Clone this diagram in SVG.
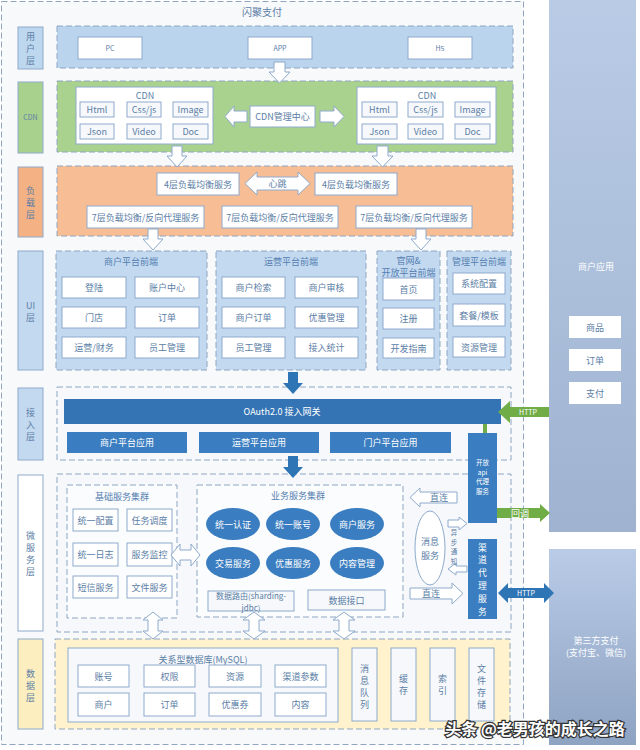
<svg xmlns="http://www.w3.org/2000/svg" width="640" height="750" viewBox="0 0 640 750">
<defs>
<linearGradient id="gApp" x1="0" y1="0" x2="0" y2="1"><stop offset="0" stop-color="#b9cbe5"/><stop offset="1" stop-color="#9fb3d1"/></linearGradient>
<linearGradient id="gPay" x1="0" y1="0" x2="0" y2="1"><stop offset="0" stop-color="#b9cbe7"/><stop offset="1" stop-color="#8ea3c2"/></linearGradient>
</defs>
<style>
text{font-family:"Noto Sans CJK SC","Liberation Sans",sans-serif;font-size:9px;fill:#5b7ea6;text-anchor:middle;dominant-baseline:central}
.box{fill:#fff;stroke:#8eaacc;stroke-width:1}
.ibox{fill:#f6f8fb;stroke:#8eaacc;stroke-width:1}
.dash{stroke:#8fa6c2;stroke-width:1;stroke-dasharray:6,3}
.lab{stroke:#8eaacc;stroke-width:1}
.ha{fill:#fff;stroke:#8eaacc;stroke-width:1}
.blue{fill:#3a7dc0}
.w{fill:#fff}
.ttl{fill:#5580b0}
.s7{font-size:7px}
.s6{font-size:6.5px}
.s10{font-size:10px}
.sv{font-size:8.8px}
</style>
<rect x="0" y="0" width="640" height="750" fill="#fff"/>
<rect x="1.5" y="1.5" width="522" height="743" fill="#f8f9fb" class="dash"/>
<text x="262" y="11" class="s10">闪聚支付</text>

<g id="merchant-app">
<rect x="549" y="0" width="87" height="532" fill="url(#gApp)"/>
<text x="596" y="266" class="w">商户应用</text>
<rect x="569" y="316" width="52" height="22" fill="#fff"/><text x="595" y="327">商品</text>
<rect x="569" y="349" width="52" height="22" fill="#fff"/><text x="595" y="360">订单</text>
<rect x="569" y="382" width="52" height="22" fill="#fff"/><text x="595" y="393">支付</text>
</g>
<g id="third-pay">
<rect x="549" y="549" width="87" height="196" fill="url(#gPay)"/>
<text x="596" y="640" class="w">第三方支付</text>
<text x="596" y="652" class="w">(支付宝、微信)</text>
</g>

<g id="layer-labels">
<rect x="18" y="27" width="25" height="42" fill="#bdd7ee" class="lab"/>
<text x="30.5" y="36">用</text><text x="30.5" y="48">户</text><text x="30.5" y="60">层</text>
<rect x="18" y="82" width="25" height="71" fill="#a9d18e" class="lab"/>
<text x="30.5" y="117" class="s7">CDN</text>
<rect x="18" y="167" width="25" height="70" fill="#f4b183" class="lab"/>
<text x="30.5" y="190">负</text><text x="30.5" y="202">载</text><text x="30.5" y="214">层</text>
<rect x="18" y="251" width="25" height="119" fill="#c3d9f0" class="lab"/>
<text x="30.5" y="305">UI</text><text x="30.5" y="317">层</text>
<rect x="18" y="388" width="25" height="72" fill="#c3d9f0" class="lab"/>
<text x="30.5" y="412">接</text><text x="30.5" y="424">入</text><text x="30.5" y="436">层</text>
<rect x="18" y="475" width="25" height="156" fill="#fff" class="lab"/>
<text x="30.5" y="535">微</text><text x="30.5" y="547">服</text><text x="30.5" y="559">务</text><text x="30.5" y="571">层</text>
<rect x="18" y="639" width="25" height="90" fill="#fdeebf" class="lab"/>
<text x="30.5" y="673">数</text><text x="30.5" y="685">据</text><text x="30.5" y="697">层</text>
</g>

<g id="user-layer">
<rect x="57" y="26" width="456" height="42" fill="#bad4ee" class="dash"/>
<rect x="78" y="37" width="64" height="22" class="box"/><text x="110" y="48" class="s7">PC</text>
<rect x="248" y="37" width="64" height="22" class="box"/><text x="280" y="48" class="s7">APP</text>
<rect x="408" y="37" width="64" height="22" class="box"/><text x="440" y="48" class="s7">H5</text>
</g>

<g id="cdn-layer">
<rect x="57" y="81" width="456" height="71" fill="#aad28f" class="dash"/>
<g id="cdn-left">
<rect x="76" y="87" width="137" height="57" class="box"/>
<text x="145" y="95">CDN</text>
<rect x="80" y="102" width="34" height="15" class="ibox"/><text x="97" y="109.5">Html</text>
<rect x="127" y="102" width="34" height="15" class="ibox"/><text x="144" y="109.5">Css/js</text>
<rect x="173" y="102" width="35" height="15" class="ibox"/><text x="190.5" y="109.5">Image</text>
<rect x="80" y="124" width="34" height="15" class="ibox"/><text x="97" y="131.5">Json</text>
<rect x="127" y="124" width="34" height="15" class="ibox"/><text x="144" y="131.5">Video</text>
<rect x="173" y="124" width="35" height="15" class="ibox"/><text x="190.5" y="131.5">Doc</text>
</g>
<g id="cdn-manager">
<rect x="250" y="106" width="65" height="21" class="box"/><text x="282.5" y="116.5">CDN管理中心</text>
</g>
<g id="cdn-right">
<rect x="357" y="87" width="139" height="57" class="box"/>
<text x="427" y="95">CDN</text>
<rect x="362" y="102" width="35" height="15" class="ibox"/><text x="379.5" y="109.5">Html</text>
<rect x="408" y="102" width="35" height="15" class="ibox"/><text x="425.5" y="109.5">Css/js</text>
<rect x="455" y="102" width="35" height="15" class="ibox"/><text x="472.5" y="109.5">Image</text>
<rect x="362" y="124" width="35" height="15" class="ibox"/><text x="379.5" y="131.5">Json</text>
<rect x="408" y="124" width="35" height="15" class="ibox"/><text x="425.5" y="131.5">Video</text>
<rect x="455" y="124" width="35" height="15" class="ibox"/><text x="472.5" y="131.5">Doc</text>
</g>
</g>

<g id="lb-layer">
<rect x="57" y="166" width="456" height="70" fill="#f7be96" class="dash"/>
<rect x="157" y="173" width="82" height="22" class="box"/><text x="198" y="184">4层负载均衡服务</text>
<rect x="315" y="173" width="82" height="22" class="box"/><text x="356" y="184">4层负载均衡服务</text>
<rect x="87" y="206" width="117" height="22" class="box"/><text x="145.5" y="217">7层负载均衡/反向代理服务</text>
<rect x="222" y="206" width="116" height="22" class="box"/><text x="280" y="217">7层负载均衡/反向代理服务</text>
<rect x="356" y="206" width="116" height="22" class="box"/><text x="414" y="217">7层负载均衡/反向代理服务</text>
</g>

<g id="ui-merchant">
<rect x="56" y="251" width="151" height="119" fill="#c3d9f0" class="dash"/>
<text x="131" y="261" class="ttl">商户平台前端</text>
<rect x="62" y="277" width="64" height="21" class="box"/><text x="94" y="287.5">登陆</text>
<rect x="135" y="277" width="64" height="21" class="box"/><text x="167" y="287.5">账户中心</text>
<rect x="62" y="307" width="64" height="21" class="box"/><text x="94" y="317.5">门店</text>
<rect x="135" y="307" width="64" height="21" class="box"/><text x="167" y="317.5">订单</text>
<rect x="62" y="337" width="64" height="21" class="box"/><text x="94" y="347.5">运营/财务</text>
<rect x="135" y="337" width="64" height="21" class="box"/><text x="167" y="347.5">员工管理</text>
</g>
<g id="ui-ops">
<rect x="216" y="251" width="150" height="119" fill="#c3d9f0" class="dash"/>
<text x="291" y="261" class="ttl">运营平台前端</text>
<rect x="222" y="277" width="63" height="21" class="box"/><text x="253.5" y="287.5">商户检索</text>
<rect x="295" y="277" width="63" height="21" class="box"/><text x="326.5" y="287.5">商户审核</text>
<rect x="222" y="307" width="63" height="21" class="box"/><text x="253.5" y="317.5">商户订单</text>
<rect x="295" y="307" width="63" height="21" class="box"/><text x="326.5" y="317.5">优惠管理</text>
<rect x="222" y="337" width="63" height="21" class="box"/><text x="253.5" y="347.5">员工管理</text>
<rect x="295" y="337" width="63" height="21" class="box"/><text x="326.5" y="347.5">接入统计</text>
</g>
<g id="ui-portal">
<rect x="377" y="251" width="63" height="119" fill="#c3d9f0" class="dash"/>
<text x="408.5" y="260" class="ttl">官网&amp;</text>
<text x="408.5" y="272" class="ttl">开放平台前端</text>
<rect x="383" y="278" width="51" height="22" class="box"/><text x="408.5" y="289">首页</text>
<rect x="383" y="308" width="51" height="21" class="box"/><text x="408.5" y="318.5">注册</text>
<rect x="383" y="338" width="51" height="20" class="box"/><text x="408.5" y="348">开发指南</text>
</g>
<g id="ui-admin">
<rect x="447" y="251" width="64" height="119" fill="#c3d9f0" class="dash"/>
<text x="479" y="261" class="ttl">管理平台前端</text>
<rect x="453" y="273" width="52" height="21" class="box"/><text x="479" y="283.5">系统配置</text>
<rect x="453" y="304" width="52" height="22" class="box"/><text x="479" y="315">套餐/模板</text>
<rect x="453" y="337" width="52" height="20" class="box"/><text x="479" y="347">资源管理</text>
</g>

<g id="access-layer">
<rect x="57" y="387" width="454" height="73" fill="#f6f8fb" class="dash"/>
<rect x="64" y="399" width="437" height="25" fill="#3474b5"/><text x="282" y="411.5" class="w">OAuth2.0 接入网关</text>
<rect x="67" y="432" width="120" height="21" class="blue"/><text x="127" y="442.5" class="w">商户平台应用</text>
<rect x="199" y="432" width="120" height="21" class="blue"/><text x="259" y="442.5" class="w">运营平台应用</text>
<rect x="330" y="432" width="121" height="21" class="blue"/><text x="390.5" y="442.5" class="w">门户平台应用</text>
</g>

<g id="micro-layer">
<rect x="57" y="474" width="454" height="158" fill="#f6f8fb" class="dash"/>
</g>
<g id="base-cluster">
<rect x="67" y="485" width="110" height="133" fill="#fbfcfd" class="dash"/>
<text x="122" y="496" class="ttl">基础服务集群</text>
<rect x="73" y="509" width="45" height="22" class="box"/><text x="95.5" y="520">统一配置</text>
<rect x="127" y="509" width="45" height="22" class="box"/><text x="149.5" y="520">任务调度</text>
<rect x="73" y="543" width="45" height="23" class="box"/><text x="95.5" y="554.5">统一日志</text>
<rect x="127" y="543" width="45" height="23" class="box"/><text x="149.5" y="554.5">服务监控</text>
<rect x="73" y="576" width="45" height="22" class="box"/><text x="95.5" y="587">短信服务</text>
<rect x="127" y="576" width="45" height="22" class="box"/><text x="149.5" y="587">文件服务</text>
</g>
<g id="biz-cluster">
<rect x="197" y="485" width="206" height="132" fill="#fbfcfd" class="dash"/>
<text x="298" y="495" class="ttl">业务服务集群</text>
<ellipse cx="233" cy="524" rx="27" ry="16" class="blue"/><text x="233" y="524" class="w">统一认证</text>
<ellipse cx="293" cy="524" rx="27" ry="16" class="blue"/><text x="293" y="524" class="w">统一账号</text>
<ellipse cx="357" cy="524" rx="27" ry="16" class="blue"/><text x="357" y="524" class="w">商户服务</text>
<ellipse cx="233" cy="563" rx="27" ry="16" class="blue"/><text x="233" y="563" class="w">交易服务</text>
<ellipse cx="293" cy="563" rx="27" ry="16" class="blue"/><text x="293" y="563" class="w">优惠服务</text>
<ellipse cx="357" cy="563" rx="27" ry="16" class="blue"/><text x="357" y="563" class="w">内容管理</text>
<rect x="208" y="591" width="86" height="20" class="ibox"/>
<text x="251" y="595.5" style="font-size:8px">数据路由(sharding-</text><text x="251" y="607.5" style="font-size:8px">jdbc)</text>
<rect x="308" y="590" width="77" height="20" class="ibox"/><text x="346.5" y="600">数据接口</text>
</g>
<g id="msg-service">
<ellipse cx="430" cy="548" rx="15" ry="37" fill="#fff" stroke="#8eaacc"/>
<text x="430" y="541">消息</text><text x="430" y="555">服务</text>
</g>
<g id="open-api">
<rect x="468" y="433" width="29" height="90" class="blue"/>
<text x="482.5" y="462" class="w s6">开放</text>
<text x="482.5" y="471.5" class="w s6">api</text>
<text x="482.5" y="481" class="w s6">代理</text>
<text x="482.5" y="491" class="w s6">服务</text>
</g>
<g id="channel-proxy">
<rect x="468" y="539" width="29" height="80" class="blue"/>
<text x="482.5" y="547" class="w sv">渠</text><text x="482.5" y="559.8" class="w sv">道</text>
<text x="482.5" y="572.6" class="w sv">代</text><text x="482.5" y="585.4" class="w sv">理</text>
<text x="482.5" y="598.2" class="w sv">服</text><text x="482.5" y="611" class="w sv">务</text>
</g>

<g id="data-layer">
<rect x="55" y="639" width="455" height="90" fill="#fff2cc" class="dash"/>
</g>
<g id="mysql">
<rect x="68" y="648" width="270" height="74" class="ibox"/>
<text x="203" y="659">关系型数据库(MySQL)</text>
<rect x="78" y="665" width="51" height="22" class="box"/><text x="103.5" y="676">账号</text>
<rect x="144" y="665" width="51" height="22" class="box"/><text x="169.5" y="676">权限</text>
<rect x="209" y="665" width="52" height="22" class="box"/><text x="235" y="676">资源</text>
<rect x="275" y="665" width="51" height="22" class="box"/><text x="300.5" y="676">渠道参数</text>
<rect x="78" y="693" width="51" height="23" class="box"/><text x="103.5" y="704.5">商户</text>
<rect x="144" y="693" width="51" height="23" class="box"/><text x="169.5" y="704.5">订单</text>
<rect x="209" y="693" width="52" height="23" class="box"/><text x="235" y="704.5">优惠券</text>
<rect x="275" y="693" width="51" height="23" class="box"/><text x="300.5" y="704.5">内容</text>
</g>
<g id="mq">
<rect x="352" y="648" width="25" height="73" class="ibox"/>
<text x="364.5" y="668">消</text><text x="364.5" y="680">息</text><text x="364.5" y="692">队</text><text x="364.5" y="704">列</text>
</g>
<g id="cache">
<rect x="391" y="648" width="25" height="73" class="ibox"/>
<text x="403.5" y="678">缓</text><text x="403.5" y="690">存</text>
</g>
<g id="index">
<rect x="430" y="648" width="25" height="73" class="ibox"/>
<text x="442.5" y="678">索</text><text x="442.5" y="690">引</text>
</g>
<g id="file-store">
<rect x="469" y="648" width="25" height="73" class="ibox"/>
<text x="481.5" y="668">文</text><text x="481.5" y="680">件</text><text x="481.5" y="692">存</text><text x="481.5" y="704">储</text>
</g>

<g id="connectors">
<path class="ha" d="M274,62 H285 V72 H290 L279.5,83 L269,72 H274 Z"/>
<path class="ha" d="M247,111 V122 H234 V127 L225,116.5 L234,106 V111 Z"/>
<path class="ha" d="M320,111 H334 V106 L344,116.5 L334,127 V122 H320 Z"/>
<path class="ha" d="M172,146 H182 V156 H187 L177,167 L167,156 H172 Z"/>
<path class="ha" d="M377,146 H388 V156 H393 L382.5,167 L372,156 H377 Z"/>
<path class="ha" d="M245,183.5 L257,172 V177 H298 V172 L310,183.5 L298,195 V190 H257 V195 Z"/>
<text x="277.5" y="183.5">心跳</text>
<path class="ha" d="M148,229 H158 V239 H163 L153,250 L143,239 H148 Z"/>
<path class="ha" d="M416,229 H426 V239 H431 L421,250 L411,239 H416 Z"/>
<path fill="#2e75b6" d="M288,372 H298 V383 H303 L293,394 L283,383 H288 Z"/>
<path fill="#2e75b6" d="M288,456 H298 V467 H303 L293,478 L283,467 H288 Z"/>
<path fill="#70ad47" d="M498,412 L510,401 V407 H549 V417 H510 V423 Z"/>
<text x="528" y="412" class="w s7">HTTP</text>
<rect x="483" y="424" width="4" height="9" fill="#70ad47"/>
<path fill="#70ad47" d="M497,508 H540 V504 L550,513 L540,522 V518 H497 Z"/>
<text x="520" y="513" class="w">回调</text>
<path fill="#2e75b6" d="M498,593 L508,583 V588 H544 V583 L554,593 L544,603 V598 H508 V603 Z"/>
<text x="526" y="593" class="w s7">HTTP</text>
<path class="ha" d="M171,555 L180,544 V550 H191 V544 L200,555 L191,566 V560 H180 V566 Z"/>
<path class="ha" d="M410,497.5 L420,488 V492 H457 V503 H420 V507 Z"/>
<text x="439" y="497.5">直连</text>
<path class="ha" d="M448,520 H459 V517 L467,523.5 L459,530 V527 H448 Z"/>
<path class="ha" d="M448,569 L456,563 V566 H467 V572 H456 V575 Z"/>
<text x="454" y="532" class="s6">异</text><text x="454" y="541.5" class="s6">步</text><text x="454" y="551" class="s6">通</text><text x="454" y="560.5" class="s6">知</text>
<path class="ha" d="M410,588 H452 V583 L463,593.5 L452,604 V599 H410 Z"/>
<text x="431" y="593.5">直连</text>
<path class="ha" d="M153,612 L163,620 H158 V631 H163 L153,639 L143,631 H148 V620 H143 Z"/>
<path class="ha" d="M254,612 L265,620 H259 V631 H265 L254,639 L243,631 H249 V620 H243 Z"/>
<path class="ha" d="M344,612 L355,620 H349 V631 H355 L344,639 L333,631 H339 V620 H333 Z"/>
</g>

<text x="535" y="728" style="font-size:16px;fill:#fff;stroke:#333;stroke-width:2.5px;paint-order:stroke;font-weight:bold">头条 @老男孩的成长之路</text>
</svg>
